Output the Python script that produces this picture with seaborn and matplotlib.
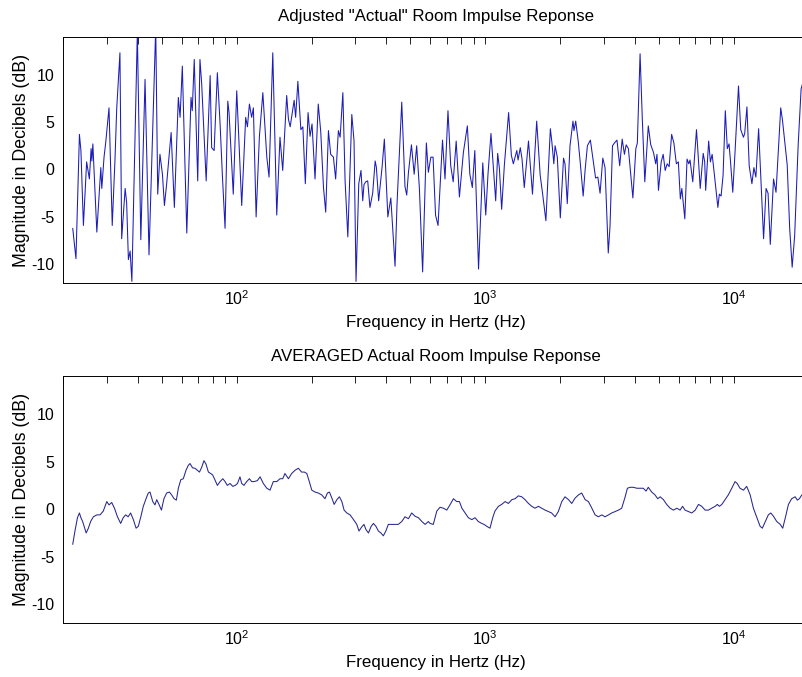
import numpy as np
import pandas as pd
import matplotlib
matplotlib.use("Agg")
import matplotlib.pyplot as plt
from matplotlib.ticker import FixedLocator, LogLocator, NullFormatter
import seaborn as sns

# Raw (unsmoothed) response: log10 of frequency in Hz, and level in dB
top_log10_hz = [
    1.340, 1.353, 1.367, 1.373, 1.383, 1.396, 1.407, 1.414, 1.417, 1.421,
    1.437, 1.453, 1.457, 1.466, 1.473, 1.486, 1.499, 1.510, 1.517, 1.530,
    1.537, 1.551, 1.557, 1.564, 1.571, 1.578, 1.600, 1.614, 1.631, 1.647,
    1.674, 1.682, 1.691, 1.701, 1.709, 1.718, 1.736, 1.749, 1.765, 1.772,
    1.781, 1.799, 1.816, 1.821, 1.829, 1.843, 1.852, 1.859, 1.877, 1.893,
    1.899, 1.909, 1.922, 1.933, 1.942, 1.953, 1.964, 1.969, 1.986, 2.000,
    2.020, 2.036, 2.043, 2.051, 2.060, 2.067, 2.078, 2.091, 2.105, 2.121,
    2.130, 2.145, 2.161, 2.174, 2.185, 2.201, 2.208, 2.215, 2.231, 2.237,
    2.246, 2.258, 2.266, 2.276, 2.287, 2.295, 2.303, 2.315, 2.328, 2.338,
    2.349, 2.358, 2.369, 2.378, 2.389, 2.398, 2.409, 2.416, 2.427, 2.436,
    2.447, 2.463, 2.472, 2.480, 2.491, 2.500, 2.507, 2.512, 2.519, 2.527,
    2.536, 2.547, 2.557, 2.562, 2.571, 2.585, 2.594, 2.608, 2.620, 2.637,
    2.645, 2.664, 2.677, 2.684, 2.691, 2.703, 2.714, 2.724, 2.735, 2.748,
    2.763, 2.771, 2.781, 2.790, 2.800, 2.810, 2.828, 2.838, 2.850, 2.861,
    2.871, 2.883, 2.896, 2.912, 2.928, 2.938, 2.948, 2.958, 2.973, 2.990,
    3.002, 3.011, 3.023, 3.035, 3.042, 3.050, 3.057, 3.066, 3.077, 3.094,
    3.105, 3.113, 3.127, 3.132, 3.141, 3.148, 3.157, 3.174, 3.190, 3.207,
    3.221, 3.230, 3.244, 3.262, 3.268, 3.276, 3.281, 3.290, 3.302, 3.315,
    3.321, 3.330, 3.341, 3.353, 3.357, 3.364, 3.374, 3.382, 3.394, 3.402,
    3.411, 3.423, 3.431, 3.444, 3.453, 3.462, 3.473, 3.482, 3.495, 3.502,
    3.512, 3.520, 3.530, 3.541, 3.551, 3.560, 3.567, 3.576, 3.583, 3.594,
    3.606, 3.612, 3.623, 3.632, 3.642, 3.656, 3.666, 3.677, 3.686, 3.691,
    3.697, 3.708, 3.716, 3.724, 3.732, 3.740, 3.750, 3.759, 3.769, 3.777,
    3.785, 3.791, 3.803, 3.812, 3.819, 3.824, 3.835, 3.850, 3.856, 3.865,
    3.877, 3.883, 3.887, 3.899, 3.906, 3.913, 3.921, 3.936, 3.942, 3.949,
    3.957, 3.966, 3.974, 3.981, 3.987, 3.996, 4.005, 4.019, 4.028, 4.039,
    4.044, 4.053, 4.062, 4.073, 4.081, 4.089, 4.100, 4.110, 4.120, 4.130,
    4.138, 4.147, 4.160, 4.170, 4.189, 4.196, 4.215, 4.225, 4.235, 4.245,
    4.259, 4.271, 4.287,
]
top_db = [
    -6.2, -9.4, 3.7, 2.0, -5.9, 0.8, -1.0, 2.2, 0.9, 2.7,
    -6.6, 0.2, -2.0, 1.3, 2.9, 6.5, -5.9, 1.0, 6.4, 12.3,
    -7.3, -2.0, -3.5, -9.5, -8.6, -11.8, 14.5, -7.4, 9.5, -9.0,
    15.0, -2.6, 1.6, -0.5, -3.8, -1.5, 3.9, -4.0, 7.6, 5.5,
    10.9, -6.7, 7.6, 6.2, 11.6, -1.2, 11.6, 9.0, -1.2, 9.9,
    2.3, 2.0, 10.2, 4.8, -0.5, -6.2, 7.2, 6.0, -2.6, 8.3,
    -3.8, 5.5, 4.5, 6.9, 5.5, 6.5, -5.0, 3.4, 8.1, 1.3,
    -0.8, 12.3, -4.8, 3.4, -0.1, 7.8, 5.3, 4.5, 7.3, 5.5,
    9.3, 4.2, 4.5, -1.5, 6.0, 3.5, 4.8, -1.0, 6.9, 4.0,
    -1.9, -4.5, 4.1, 1.6, 1.3, -1.0, 4.1, 3.4, 8.1, -1.2,
    -7.1, 5.8, 3.0, -11.8, -1.5, -0.1, -3.3, -1.6, -1.3, -1.2,
    -4.0, -2.5, 0.9, 0.2, -3.3, 0.3, 3.2, -5.0, -3.0, -10.2,
    -3.6, 7.1, -1.8, -2.7, -0.3, 2.6, -0.5, 2.5, -2.0, -10.8,
    2.8, -0.3, 1.3, 1.3, -4.8, -5.9, 3.1, -1.0, 6.2, 0.4,
    -1.3, 3.0, -2.9, 1.8, 4.6, -0.5, -1.9, 2.0, -10.5, 0.7,
    -4.8, -0.5, 3.8, -0.6, -3.3, 1.7, 0.1, -4.2, 0.5, 6.0,
    1.5, 0.6, 2.0, 1.0, 2.3, 1.1, -1.9, 3.0, -2.6, 5.1,
    -0.6, -2.4, -5.4, 4.3, 2.9, 0.6, 2.5, 1.3, -5.1, 1.2,
    0.6, -3.6, 2.5, 5.1, 4.1, 5.1, 3.0, 0.8, -2.8, 0.0,
    2.5, 3.1, 1.6, -0.9, -0.8, -2.5, 1.2, 0.2, -8.8, -6.0,
    2.5, 2.8, 3.1, 0.4, 3.2, 1.6, 2.6, 2.2, 0.2, -3.0,
    2.2, 2.8, 12.2, 5.3, -1.3, 4.6, 2.6, 1.8, 0.6, 1.6,
    -2.2, 0.8, 1.6, -0.1, 0.6, 0.3, 3.7, 2.8, 0.6, 0.8,
    -3.1, -2.0, -5.2, 1.1, 0.6, 1.0, -1.3, 4.2, 1.8, -2.0,
    1.7, 0.8, -2.2, 3.0, 0.8, 1.6, -0.3, -4.0, -2.6, -2.8,
    -0.6, 6.2, 2.2, 2.7, 0.8, -2.4, 1.8, 8.8, 4.2, 3.4,
    3.8, 6.6, 0.4, -1.5, 0.2, -0.8, 4.3, -1.5, -7.3, -2.0,
    -2.5, -7.9, -1.0, -2.4, 6.5, 5.2, 0.5, -6.2, -10.3, -7.0,
    2.5, 8.5, 10.0,
]

# Smoothed (averaged) response
avg_log10_hz = [
    1.340, 1.349, 1.359, 1.367, 1.373, 1.380, 1.394, 1.403, 1.412, 1.423,
    1.437, 1.450, 1.463, 1.477, 1.486, 1.497, 1.508, 1.520, 1.533, 1.543,
    1.553, 1.563, 1.573, 1.584, 1.595, 1.604, 1.614, 1.624, 1.635, 1.644,
    1.651, 1.662, 1.671, 1.678, 1.688, 1.697, 1.707, 1.718, 1.729, 1.738,
    1.748, 1.757, 1.765, 1.775, 1.785, 1.796, 1.805, 1.812, 1.822, 1.832,
    1.841, 1.850, 1.859, 1.868, 1.876, 1.886, 1.895, 1.903, 1.912, 1.922,
    1.933, 1.944, 1.953, 1.962, 1.973, 1.984, 1.994, 2.003, 2.013, 2.020,
    2.029, 2.040, 2.051, 2.060, 2.070, 2.083, 2.094, 2.107, 2.121, 2.134,
    2.147, 2.161, 2.174, 2.185, 2.194, 2.208, 2.221, 2.235, 2.248, 2.261,
    2.272, 2.282, 2.292, 2.302, 2.315, 2.328, 2.342, 2.355, 2.365, 2.373,
    2.383, 2.392, 2.403, 2.413, 2.423, 2.432, 2.443, 2.456, 2.470, 2.483,
    2.492, 2.502, 2.512, 2.520, 2.530, 2.541, 2.550, 2.560, 2.570, 2.580,
    2.590, 2.600, 2.610, 2.624, 2.637, 2.650, 2.664, 2.677, 2.691, 2.704,
    2.718, 2.731, 2.745, 2.758, 2.771, 2.778, 2.791, 2.805, 2.818, 2.832,
    2.845, 2.858, 2.872, 2.885, 2.896, 2.906, 2.919, 2.932, 2.946, 2.959,
    2.972, 2.986, 2.995, 3.006, 3.019, 3.030, 3.039, 3.053, 3.066, 3.080,
    3.093, 3.107, 3.120, 3.133, 3.147, 3.160, 3.174, 3.187, 3.200, 3.214,
    3.227, 3.241, 3.254, 3.267, 3.281, 3.294, 3.308, 3.321, 3.335, 3.348,
    3.361, 3.375, 3.388, 3.402, 3.415, 3.429, 3.442, 3.455, 3.469, 3.482,
    3.496, 3.509, 3.522, 3.536, 3.549, 3.563, 3.572, 3.583, 3.596, 3.610,
    3.623, 3.636, 3.647, 3.656, 3.670, 3.683, 3.694, 3.704, 3.717, 3.730,
    3.744, 3.757, 3.771, 3.784, 3.794, 3.804, 3.817, 3.831, 3.845, 3.858,
    3.871, 3.885, 3.898, 3.911, 3.925, 3.934, 3.942, 3.952, 3.965, 3.978,
    3.992, 4.005, 4.014, 4.025, 4.039, 4.052, 4.066, 4.079, 4.093, 4.106,
    4.115, 4.127, 4.139, 4.149, 4.160, 4.173, 4.187, 4.197, 4.207, 4.220,
    4.233, 4.247, 4.256, 4.264, 4.274, 4.291,
]
avg_db = [
    -3.7, -2.3, -0.9, -0.4, -0.9, -1.3, -2.5, -2.0, -1.3, -0.8,
    -0.6, -0.6, -0.2, 0.8, 0.45, 0.7, 0.1, -0.8, -1.5, -0.9,
    -0.6, -0.8, -0.4, -1.1, -2.0, -1.8, -0.8, 0.3, 1.1, 1.7,
    1.8, 0.8, 0.45, 1.0, 0.45, -0.1, 1.1, 1.7, 1.8, 1.5,
    1.1, 0.95, 2.2, 3.1, 3.2, 4.1, 4.6, 4.8, 4.35, 4.3,
    4.1, 3.9, 4.4, 5.1, 4.75, 3.9, 3.75, 3.6, 3.1, 2.5,
    2.9, 3.2, 2.9, 2.5, 2.7, 2.4, 2.5, 2.7, 3.4, 2.7,
    2.5, 2.9, 3.2, 2.9, 2.9, 3.0, 3.4, 2.7, 2.2, 2.0,
    2.9, 2.9, 3.2, 3.2, 3.75, 3.2, 3.75, 4.1, 4.3, 3.9,
    3.9, 3.75, 2.9, 2.0, 1.8, 1.7, 1.5, 1.1, 1.7, 1.8,
    1.15, 0.5, 1.0, 1.3, 0.8, -0.1, -0.4, -0.6, -1.1, -1.6,
    -2.3, -1.9, -1.6, -2.15, -2.5, -1.8, -1.5, -1.8, -2.3, -2.5,
    -2.8, -2.3, -1.6, -1.6, -1.6, -1.6, -1.3, -0.8, -1.0, -0.4,
    -0.75, -0.9, -1.3, -1.6, -1.3, -1.5, -1.6, -0.2, 0.2, 0.1,
    -0.1, 0.45, 1.1, 0.8, 0.8, 0.1, -0.4, -0.9, -1.1, -0.9,
    -1.3, -1.5, -1.6, -1.8, -2.0, -0.9, -0.2, 0.3, 0.5, 0.8,
    0.6, 1.0, 1.1, 1.4, 1.3, 1.0, 0.6, 0.3, 0.1, 0.3,
    0.1, -0.1, -0.25, -0.4, -0.8, -0.25, 0.8, 1.3, 1.0, 0.6,
    1.15, 1.5, 1.7, 1.0, 0.8, 0.1, -0.6, -0.8, -0.6, -0.8,
    -0.6, -0.4, -0.25, -0.1, 0.1, 1.3, 2.2, 2.3, 2.3, 2.2,
    2.2, 2.2, 1.9, 2.3, 1.8, 1.5, 1.1, 1.3, 1.0, 0.5,
    0.1, -0.1, 0.1, -0.1, 0.3, -0.1, -0.25, -0.4, -0.1, 0.5,
    0.3, -0.1, -0.1, 0.1, 0.3, 0.5, 0.3, 0.5, 1.0, 1.5,
    2.2, 2.9, 2.7, 2.2, 2.0, 2.4, 1.5, 0.1, -0.9, -1.8,
    -2.0, -1.3, -0.6, -0.4, -0.75, -1.3, -1.6, -2.0, -0.95, 0.5,
    1.1, 1.3, 0.95, 1.1, 1.5, 1.6,
]

titles = ['Adjusted "Actual" Room Impulse Reponse',
          'AVERAGED Actual Room Impulse Reponse']
x_label = "Frequency in Hertz (Hz)"
y_label = "Magnitude in Decibels (dB)"
freq_limits = (20, 20000)
db_limits = (-12, 14)
db_ticks = [-10, -5, 0, 5, 10]
decade_ticks = [100, 1000, 10000]
decade_labels = [r"$10^{2}$", r"$10^{3}$", r"$10^{4}$"]

sns.set_theme(style="white")
plt.rcParams["font.family"] = ["Liberation Sans", "DejaVu Sans"]
plt.rcParams["mathtext.fontset"] = "custom"
plt.rcParams["mathtext.rm"] = "Liberation Sans"
plt.rcParams["mathtext.it"] = "Liberation Sans:italic"
plt.rcParams["axes.unicode_minus"] = False

fig = plt.figure(figsize=(8.02, 6.77), dpi=100, facecolor="white")
ax_top = fig.add_axes([0.0786, 0.5815, 0.9296, 0.3643])
ax_bot = fig.add_axes([0.0786, 0.0793, 0.9296, 0.3653])

df_top = pd.DataFrame({"freq": np.power(10.0, top_log10_hz), "db": top_db})
df_avg = pd.DataFrame({"freq": np.power(10.0, avg_log10_hz), "db": avg_db})

sns.lineplot(data=df_top, x="freq", y="db", ax=ax_top, sort=False,
             estimator=None, color="#1c1cb8", linewidth=0.75)
sns.lineplot(data=df_avg, x="freq", y="db", ax=ax_bot, sort=False,
             estimator=None, color="#26268f", linewidth=0.75)

for ax, title in zip((ax_top, ax_bot), titles):
    ax.set_xscale("log")
    ax.set_xlim(*freq_limits)
    ax.set_ylim(*db_limits)
    ax.xaxis.set_major_locator(FixedLocator(decade_ticks))
    ax.set_xticklabels(decade_labels)
    ax.xaxis.set_minor_locator(LogLocator(base=10, subs=np.arange(2, 10)))
    ax.xaxis.set_minor_formatter(NullFormatter())
    ax.set_yticks(db_ticks)
    ax.set_yticklabels([str(t) for t in db_ticks])
    ax.tick_params(which="both", direction="in", top=True, right=True,
                   length=5, width=0.6, color="black", labelsize=11.5,
                   labelcolor="black")
    ax.tick_params(axis="x", which="major", pad=4)
    ax.tick_params(axis="y", which="major", pad=6)
    for spine in ax.spines.values():
        spine.set_color("black")
        spine.set_linewidth(0.7)
    ax.set_title(title, fontsize=12.2, pad=11, color="black")
    ax.set_xlabel(x_label, fontsize=12.2, labelpad=5, color="black")
    ax.set_ylabel(y_label, fontsize=12.8, labelpad=1, color="black")
    ax.grid(False)

fig.savefig("out.png", dpi=100, facecolor="white")
